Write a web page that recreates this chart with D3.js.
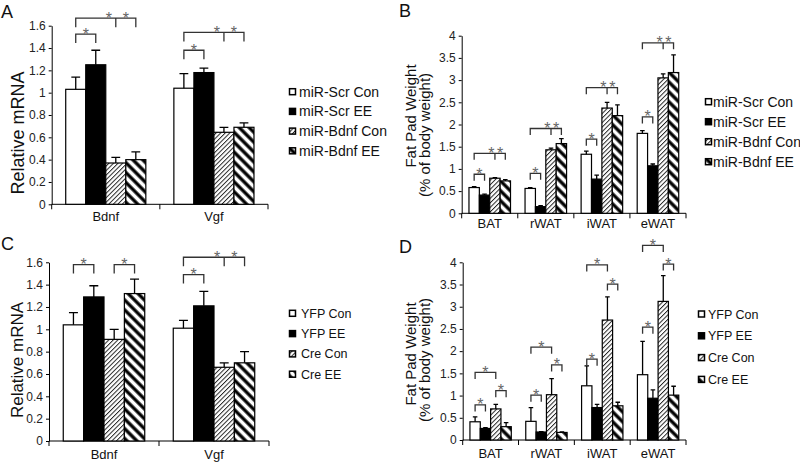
<!DOCTYPE html>
<html>
<head>
<meta charset="utf-8">
<script src="https://cdn.jsdelivr.net/npm/d3@7/dist/d3.min.js"></script>
<style>
  body { margin: 0; background: #fff; }
  svg { display: block; font-family: "Liberation Sans", Arial, sans-serif; }
</style>
</head>
<body>
<svg id="fig" width="800" height="464"></svg>
<script>
// categories and groups
var genes = ["Bdnf", "Vgf"];
var depots = ["BAT", "rWAT", "iWAT", "eWAT"];
var mirGroups = ["miR-Scr Con", "miR-Scr EE", "miR-Bdnf Con", "miR-Bdnf EE"];
var creGroups = ["YFP Con", "YFP EE", "Cre Con", "Cre EE"];
var mrnaTicks = [0, 0.2, 0.4, 0.6, 0.8, 1, 1.2, 1.4, 1.6];
var fatTicks = [0, 0.5, 1, 1.5, 2, 2.5, 3, 3.5, 4];

// A: relative mRNA, rows = genes, columns = groups
var aMean = [[1.03, 1.25, 0.37, 0.40], [1.04, 1.18, 0.645, 0.69]];
var aErr  = [[0.11, 0.13, 0.05, 0.07], [0.13, 0.04, 0.045, 0.04]];
// B: fat pad weight, rows = depots
var bMean = [[0.58, 0.41, 0.79, 0.73], [0.56, 0.15, 1.43, 1.57], [1.33, 0.77, 2.37, 2.2], [1.8, 1.07, 3.05, 3.17]];
var bErr  = [[0.02, 0.02, 0.015, 0.03], [0.02, 0.02, 0.04, 0.11], [0.07, 0.09, 0.13, 0.24], [0.06, 0.04, 0.09, 0.4]];
// C
var cMean = [[1.04, 1.29, 0.91, 1.32], [1.01, 1.21, 0.66, 0.70]];
var cErr  = [[0.11, 0.10, 0.09, 0.13], [0.07, 0.13, 0.04, 0.10]];
// D
var dMean = [[0.41, 0.26, 0.70, 0.30], [0.42, 0.18, 1.02, 0.17], [1.22, 0.73, 2.70, 0.77], [1.47, 0.94, 3.12, 1.01]];
var dErr  = [[0.11, 0.02, 0.10, 0.09], [0.31, 0.01, 0.36, 0.01], [0.45, 0.07, 0.52, 0.08], [0.75, 0.19, 0.58, 0.20]];

// significance brackets: [category, from bar, to bar, middle bar or null, level]
var aSig = [[0, 0, 1, null, 1.525], [0, 0, 3, 2, 1.667], [1, 0, 1, null, 1.38], [1, 0, 3, 2, 1.54]];
var bSig = [[0, 0, 1, null, 0.88], [0, 0, 3, 2, 1.35], [1, 0, 1, null, 0.9], [1, 0, 3, 2, 1.91],
            [2, 0, 1, null, 1.67], [2, 0, 3, 2, 2.83], [3, 0, 1, null, 2.17], [3, 0, 3, 2, 3.84]];
var cSig = [[0, 0, 1, null, 1.58], [0, 2, 3, null, 1.58], [1, 0, 1, null, 1.49], [1, 0, 3, 2, 1.645]];
var dSig = [[0, 0, 1, null, 0.79], [0, 2, 3, null, 1.11], [0, 0, 2, null, 1.52],
            [1, 0, 1, null, 1.01], [1, 2, 3, null, 1.69], [1, 0, 2, null, 2.09],
            [2, 0, 1, null, 1.82], [2, 2, 3, null, 3.51], [2, 0, 2, null, 3.94],
            [3, 0, 1, null, 2.54], [3, 2, 3, null, 3.96], [3, 0, 2, null, 4.38]];

var svg = d3.select("#fig");
svg.append("rect").attr("width", 800).attr("height", 464).attr("fill", "#fff");

var defs = svg.append("defs");
var thin = defs.append("pattern").attr("id", "thin")
    .attr("patternUnits", "userSpaceOnUse").attr("width", 3.2).attr("height", 3.2)
    .attr("patternTransform", "rotate(45)");
thin.append("rect").attr("width", 3.2).attr("height", 3.2).attr("fill", "#fff");
thin.append("line").attr("x1", 0.5).attr("y1", 0).attr("x2", 0.5).attr("y2", 3.2)
    .attr("stroke", "#111").attr("stroke-width", 0.9);
var thick = defs.append("pattern").attr("id", "thick")
    .attr("patternUnits", "userSpaceOnUse").attr("width", 7).attr("height", 7)
    .attr("patternTransform", "rotate(-45)");
thick.append("rect").attr("width", 7).attr("height", 7).attr("fill", "#fff");
thick.append("line").attr("x1", 2).attr("y1", 0).attr("x2", 2).attr("y2", 7)
    .attr("stroke", "#000").attr("stroke-width", 3.3);

var fills = ["#fff", "#000", "url(#thin)", "url(#thick)"];

function drawPanel(p) {
  var g = svg.append("g");
  var y = d3.scaleLinear().domain([0, p.max]).range([p.bottom, p.top]);
  var x = d3.scaleBand().domain(p.cats).range([p.left, p.right]);
  var xs = d3.scaleBand().domain(d3.range(p.groups.length))
      .range([0, x.bandwidth()]).paddingOuter(0.7);
  var bw = xs.bandwidth();

  // y axis
  var ya = g.append("g").attr("transform", "translate(" + p.left + ",0)")
      .call(d3.axisLeft(y).tickValues(p.ticks).tickFormat(d3.format(""))
        .tickSize(3).tickPadding(3).tickSizeOuter(0));
  ya.selectAll("text").attr("font-size", 12).attr("fill", "#222").attr("font-family", null);
  ya.select(".domain").attr("stroke", "#000");

  // x axis: baseline, boundary ticks and labels
  g.append("line").attr("x1", p.left).attr("x2", p.right)
      .attr("y1", y(0)).attr("y2", y(0)).attr("stroke", "#000");
  var bounds = p.cats.map(function(c) { return x(c); }).concat([p.right]);
  g.selectAll(".xt").data(bounds).enter().append("line")
      .attr("x1", function(d) { return d; }).attr("x2", function(d) { return d; })
      .attr("y1", y(0)).attr("y2", y(0) + 5).attr("stroke", "#000");
  g.selectAll(".xl").data(p.cats).enter().append("text")
      .attr("x", function(d) { return x(d) + x.bandwidth() / 2; })
      .attr("y", y(0) + p.labelDy)
      .attr("text-anchor", "middle").attr("font-size", 13).attr("fill", "#111")
      .text(function(d) { return d; });

  // bars
  var rows = [];
  p.mean.forEach(function(r, i) {
    r.forEach(function(v, j) {
      rows.push({cat: p.cats[i], j: j, v: v, e: p.err[i][j]});
    });
  });
  var bars = g.selectAll(".bar").data(rows).enter().append("g");
  bars.append("rect")
      .attr("x", function(d) { return x(d.cat) + xs(d.j); })
      .attr("y", function(d) { return y(d.v); })
      .attr("width", bw)
      .attr("height", function(d) { return y(0) - y(d.v); })
      .attr("fill", function(d) { return fills[d.j]; })
      .attr("stroke", "#000").attr("stroke-width", 1.2);
  bars.append("path")
      .attr("d", function(d) {
        var cx = x(d.cat) + xs(d.j) + bw / 2, cw = bw * 0.22;
        return "M" + cx + "," + y(d.v) + "V" + y(d.v + d.e) +
               "M" + (cx - cw) + "," + y(d.v + d.e) + "H" + (cx + cw);
      })
      .attr("fill", "none").attr("stroke", "#000").attr("stroke-width", 1.3);

  // significance brackets
  function bx(ci, j) { return x(p.cats[ci]) + xs(j) + bw / 2; }
  p.sig.forEach(function(s) {
    var xa = bx(s[0], s[1]), xb = bx(s[0], s[2]), yl = y(s[4]);
    var d = "M" + xa + "," + (yl + p.leg) + "V" + yl + "H" + xb + "V" + (yl + p.leg);
    var stars = [(xa + xb) / 2];
    if (s[3] !== null) {
      var xm = bx(s[0], s[3]);
      d += "M" + xm + "," + yl + "V" + (yl + p.leg);
      stars = [xm - bw * 0.35, (xm + xb) / 2];
    }
    g.append("path").attr("d", d).attr("fill", "none")
        .attr("stroke", "#333").attr("stroke-width", 1.3);
    stars.forEach(function(sx) {
      g.append("text").attr("x", sx).attr("y", yl + 5.5)
          .attr("text-anchor", "middle").attr("font-size", 16).attr("fill", "#666")
          .text("*");
    });
  });

  // legend
  var lg = g.append("g");
  p.groups.forEach(function(name, j) {
    var ly = p.legY + j * p.legStep;
    lg.append("rect").attr("x", p.legX).attr("y", ly - 3)
        .attr("width", 6).attr("height", 6)
        .attr("fill", fills[j]).attr("stroke", "#000").attr("stroke-width", 1.5);
    lg.append("text").attr("x", p.legText).attr("y", ly).attr("dy", "0.36em")
        .attr("font-size", p.legFont).attr("fill", "#111").text(name);
  });

  // axis title
  p.titles.forEach(function(t) {
    g.append("text")
        .attr("transform", "translate(" + t[1] + "," + t[2] + ") rotate(-90)")
        .attr("text-anchor", "middle").attr("dy", "0.35em")
        .attr("font-size", t[3]).attr("fill", "#111").text(t[0]);
  });

  // panel letter
  g.append("text").attr("x", p.letter[1]).attr("y", p.letter[2])
      .attr("font-size", 18).attr("fill", "#111").text(p.letter[0]);
}

drawPanel({cats: genes, groups: mirGroups, mean: aMean, err: aErr, sig: aSig,
  ticks: mrnaTicks, max: 1.6, left: 51.7, right: 268, top: 25.7, bottom: 204.3,
  labelDy: 17, leg: 9, legX: 289.5, legText: 299, legY: 91.7, legStep: 19.7, legFont: 14,
  titles: [["Relative mRNA", 17.5, 133, 18]], letter: ["A", 1, 18]});

drawPanel({cats: depots, groups: mirGroups, mean: bMean, err: bErr, sig: bSig,
  ticks: fatTicks, max: 4, left: 461.7, right: 686, top: 35.7, bottom: 213.3,
  labelDy: 15, leg: 6.5, legX: 705.5, legText: 713, legY: 101.7, legStep: 20, legFont: 14,
  titles: [["Fat Pad Weight", 411, 116, 15], ["(% of body weight)", 425, 135, 15]],
  letter: ["B", 399, 17]});

drawPanel({cats: genes, groups: creGroups, mean: cMean, err: cErr, sig: cSig,
  ticks: mrnaTicks, max: 1.6, left: 49, right: 269, top: 262.3, bottom: 441,
  labelDy: 18, leg: 9, legX: 289.5, legText: 301, legY: 313.3, legStep: 20.3, legFont: 12.5,
  titles: [["Relative mRNA", 17.5, 360, 17]], letter: ["C", 1, 250]});

drawPanel({cats: depots, groups: creGroups, mean: dMean, err: dErr, sig: dSig,
  ticks: fatTicks, max: 4, left: 462.7, right: 686, top: 262.3, bottom: 440,
  labelDy: 18, leg: 6.5, legX: 698.5, legText: 708, legY: 314, legStep: 21.8, legFont: 12.5,
  titles: [["Fat Pad Weight", 411, 354, 15], ["(% of body weight)", 425, 360, 15]],
  letter: ["D", 399, 253]});
</script>
</body>
</html>
